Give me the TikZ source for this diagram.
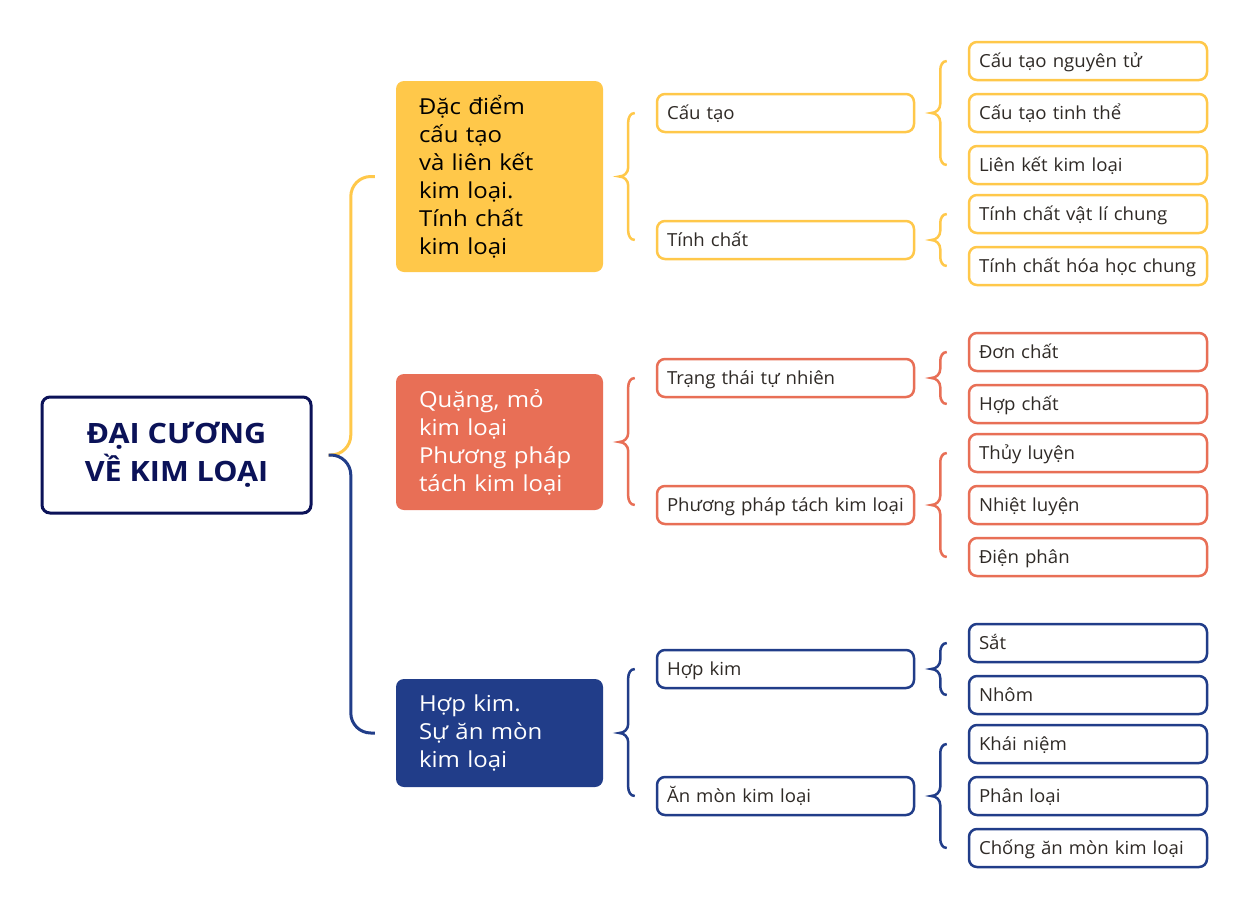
\documentclass[tikz,border=0pt]{standalone}
\usepackage{fontspec}
\setmainfont{Open Sans}
\newfontfamily\wideA{Open Sans}[FakeStretch=1.09]
\newfontfamily\wideB{Open Sans}[FakeStretch=1.035]
\usetikzlibrary{calc}
\definecolor{cy}{HTML}{FFC84A}
\definecolor{cr}{HTML}{E86F56}
\definecolor{cb}{HTML}{213D89}
\definecolor{cn}{HTML}{0B1258}
\definecolor{ct}{HTML}{2F2A26}
\newcommand\mybrace[4]{\draw[#1] let \p1=([xshift=16pt]#2.east), \p2=([xshift=-21pt]#3.west), \p3=([xshift=-21pt]#4.west) in
  (\p2) to[out=180,in=90] ({\x1+9pt},{\y2-9pt}) -- ({\x1+9pt},{\y1+9pt}) to[out=-90,in=0] (\p1)
  to[out=0,in=90] ({\x1+9pt},{\y1-9pt}) -- ({\x1+9pt},{\y3+9pt}) to[out=-90,in=180] (\p3);}
\begin{document}
\begin{tikzpicture}[x=1pt,y=-1pt,
  mainbox/.style={draw=cn, line width=3pt, rounded corners=8pt, minimum width=269pt, minimum height=116pt,
    align=center, text=cn, font=\wideA\bfseries\fontsize{28}{37.5}\selectfont},
  lone/.style={rounded corners=8pt, text width=161pt, inner xsep=23pt, align=left, inner ysep=0pt,
    font=\wideA\fontsize{22}{28}\selectfont},
  ltwo/.style={draw, line width=2.5pt, rounded corners=8pt, text width=237pt, inner xsep=10pt, inner ysep=0pt,
    text height=17pt, text depth=4pt,
    minimum height=38pt, align=left, text=ct, font=\wideB\fontsize{18}{22}\selectfont},
  lthree/.style={ltwo, text width=218pt},
  brc/.style={line width=2.5pt},
  trunk/.style={line width=3pt, rounded corners=20pt}
]
\useasboundingbox (0,0) rectangle (1247,913);
\fill[white] (0,0) rectangle (1247,913);

\node[mainbox] (main) at (176.5,455)
  {\raisebox{-3pt}{\begin{tabular}{@{}c@{}}ĐẠI CƯƠNG\\VỀ KIM LOẠI\end{tabular}}};

\node[lone, fill=cy, text=black, minimum height=191pt] (ly) at (499.5,176.5)
  {Đặc điểm\\cấu tạo\\và liên kết\\kim loại.\\Tính chất\\kim loại};
\node[lone, fill=cr, text=white, minimum height=136pt] (lr) at (499.5,442)
  {Quặng, mỏ\\kim loại\\Phương pháp\\tách kim loại};
\node[lone, fill=cb, text=white, minimum height=108pt] (lb) at (499.5,733)
  {Hợp kim.\\Sự ăn mòn\\kim loại};

% level 2
\node[ltwo, draw=cy] (y1) at (785.5,113) {Cấu tạo};
\node[ltwo, draw=cy] (y2) at (785.5,240) {Tính chất};
\node[ltwo, draw=cr] (r1) at (785.5,378) {Trạng thái tự nhiên};
\node[ltwo, draw=cr] (r2) at (785.5,505) {Phương pháp tách kim loại};
\node[ltwo, draw=cb] (b1) at (785.5,669) {Hợp kim};
\node[ltwo, draw=cb] (b2) at (785.5,796) {Ăn mòn kim loại};

% level 3
\node[lthree, draw=cy] (y11) at (1088,61) {Cấu tạo nguyên tử};
\node[lthree, draw=cy] (y12) at (1088,113) {Cấu tạo tinh thể};
\node[lthree, draw=cy] (y13) at (1088,165) {Liên kết kim loại};
\node[lthree, draw=cy] (y21) at (1088,214) {Tính chất vật lí chung};
\node[lthree, draw=cy] (y22) at (1088,266) {Tính chất hóa học chung};
\node[lthree, draw=cr] (r11) at (1088,352) {Đơn chất};
\node[lthree, draw=cr] (r12) at (1088,404) {Hợp chất};
\node[lthree, draw=cr] (r21) at (1088,453) {Thủy luyện};
\node[lthree, draw=cr] (r22) at (1088,505) {Nhiệt luyện};
\node[lthree, draw=cr] (r23) at (1088,557) {Điện phân};
\node[lthree, draw=cb] (b11) at (1088,643) {Sắt};
\node[lthree, draw=cb] (b12) at (1088,695) {Nhôm};
\node[lthree, draw=cb] (b21) at (1088,744) {Khái niệm};
\node[lthree, draw=cb] (b22) at (1088,796) {Phân loại};
\node[lthree, draw=cb] (b23) at (1088,848) {Chống ăn mòn kim loại};

% trunk
\draw[trunk, draw=cy] ([xshift=16pt]main.east) -| ([xshift=-45pt]ly.west) -- ([xshift=-21pt]ly.west);
\draw[trunk, draw=cb] ([xshift=16pt]main.east) -| ([xshift=-45pt]lb.west) -- ([xshift=-21pt]lb.west);

% braces
\mybrace{brc, cy}{ly}{y1}{y2}
\mybrace{brc, cr}{lr}{r1}{r2}
\mybrace{brc, cb}{lb}{b1}{b2}
\mybrace{brc, cy}{y1}{y11}{y13}
\mybrace{brc, cy}{y2}{y21}{y22}
\mybrace{brc, cr}{r1}{r11}{r12}
\mybrace{brc, cr}{r2}{r21}{r23}
\mybrace{brc, cb}{b1}{b11}{b12}
\mybrace{brc, cb}{b2}{b21}{b23}
\end{tikzpicture}
\end{document}
